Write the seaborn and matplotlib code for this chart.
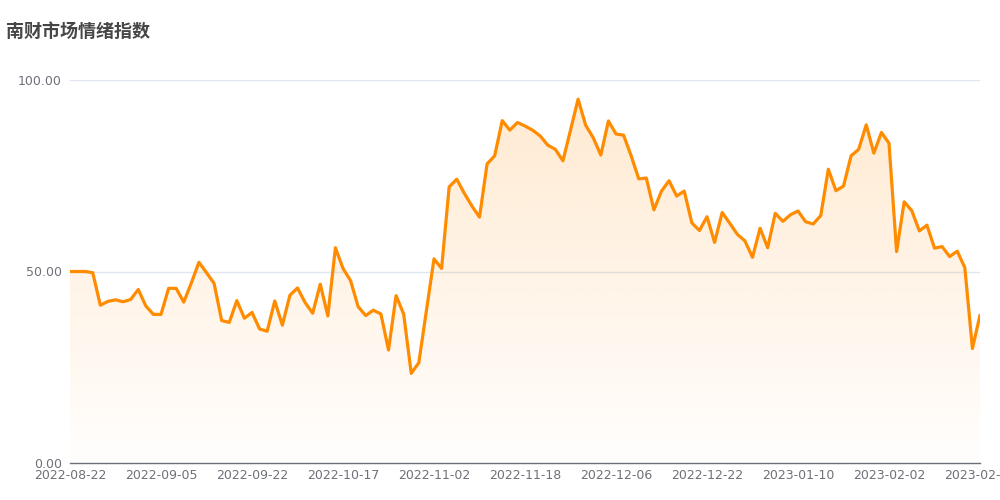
import matplotlib
matplotlib.use('Agg')

import numpy as np
import pandas as pd
import matplotlib.pyplot as plt
import seaborn as sns
from matplotlib.colors import to_rgb
from matplotlib.path import Path

# ---------------- DATA ----------------
TITLE = "南财市场情绪指数"
TICK_LABELS = ["2022-08-22", "2022-09-05", "2022-09-22", "2022-10-17",
               "2022-11-02", "2022-11-18", "2022-12-06", "2022-12-22",
               "2023-01-10", "2023-02-02", "2023-02-20"]
TICK_STEP = 12
SENTIMENT = [
    50.0, 50.0, 50.0, 49.7, 41.2, 42.2, 42.6, 42.1, 42.7, 45.3,
    41.0, 38.8, 38.8, 45.6, 45.6, 42.0, 47.0, 52.4, 49.7, 46.9,
    37.2, 36.7, 42.4, 37.8, 39.3, 35.0, 34.4, 42.3, 36.0, 43.8,
    45.7, 41.9, 39.1, 46.7, 38.4, 56.2, 50.8, 47.6, 40.8, 38.5,
    39.9, 38.9, 29.5, 43.7, 38.9, 23.4, 26.2, 39.8, 53.3, 50.8,
    72.1, 74.1, 70.4, 67.1, 64.2, 78.1, 80.2, 89.4, 86.9, 88.9,
    88.0, 86.9, 85.4, 83.0, 81.9, 78.9, 86.9, 95.0, 88.2, 84.9,
    80.4, 89.3, 85.9, 85.6, 80.2, 74.2, 74.4, 66.1, 71.0, 73.7,
    69.7, 71.0, 62.7, 60.7, 64.3, 57.6, 65.4, 62.6, 59.7, 58.0,
    53.7, 61.3, 56.2, 65.2, 63.1, 64.8, 65.8, 63.0, 62.4, 64.6,
    76.7, 71.1, 72.3, 80.2, 81.9, 88.3, 80.9, 86.3, 83.5, 55.2,
    68.2, 65.9, 60.6, 62.1, 56.1, 56.5, 53.9, 55.3, 51.0, 29.9,
    38.6,
]
# --------------------------------------

LINE_COLOR = "#ff8c00"
AXIS_COLOR = "#6e7079"
GRID_COLOR = "#e0e6f1"

df = pd.DataFrame({"idx": np.arange(len(SENTIMENT)), "value": SENTIMENT})
n = len(df)

sns.set_theme(style="white")
plt.rcParams['font.family'] = ['DejaVu Sans', 'Noto Sans CJK SC']

fig = plt.figure(figsize=(10, 5), dpi=100)
ax = fig.add_axes([0.07, 0.074, 0.91, 0.766])

# grid lines first
for yv in (50, 100):
    ax.axhline(yv, color=GRID_COLOR, linewidth=1, zorder=0)

sns.lineplot(data=df, x="idx", y="value", color=LINE_COLOR, linewidth=2.3,
             ax=ax, zorder=3)

# gradient area under the line (clip an image to the area polygon)
verts = [(0, 0)] + list(zip(df["idx"], df["value"])) + [(n - 1, 0), (0, 0)]
clip = Path(verts, closed=True)
grad = np.zeros((256, 1, 4))
grad[..., :3] = to_rgb(LINE_COLOR)
grad[..., 3] = np.linspace(0.19, 0.01, 256)[:, None]
img = ax.imshow(grad, extent=[0, n - 1, 0, 100], aspect='auto',
                origin='upper', zorder=1, interpolation='bilinear')
img.set_clip_path(clip, transform=ax.transData)

ax.set_xlim(0, n - 1)
ax.set_ylim(0, 100)
ax.set_xticks(df["idx"][::TICK_STEP])
ax.set_xticklabels(TICK_LABELS)
ax.set_yticks([0, 50, 100])
ax.set_yticklabels([f"{v:.2f}" for v in (0, 50, 100)])
ax.set_xlabel("")
ax.set_ylabel("")
ax.tick_params(axis='both', length=0, labelsize=9, labelcolor=AXIS_COLOR)
ax.tick_params(axis='y', pad=6)
ax.tick_params(axis='x', pad=4)

for side in ("top", "right", "left"):
    ax.spines[side].set_visible(False)
ax.spines["bottom"].set_color(AXIS_COLOR)
ax.spines["bottom"].set_linewidth(1)
ax.spines["bottom"].set_zorder(4)

fig.text(0.006, 0.936, TITLE, fontsize=13, fontweight='bold',
         color="#464646", ha='left', va='center')

fig.savefig("out.png", dpi=100)
plt.close(fig)
